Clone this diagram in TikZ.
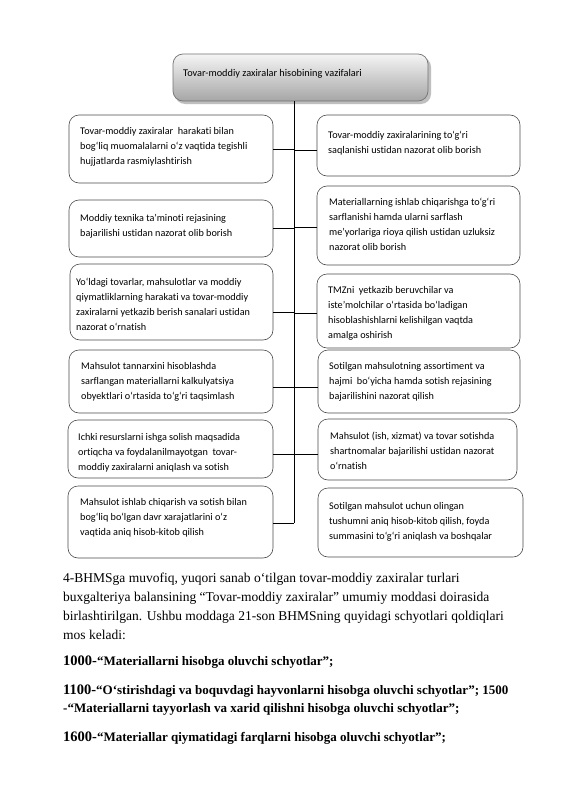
\documentclass[tikz,border=0pt]{standalone}
\usepackage{fontspec}
\setmainfont{Liberation Serif}
\newfontfamily\boxfont[Ligatures=NoCommon]{Carlito}
\usetikzlibrary{shadows}
\begin{document}
\begin{tikzpicture}[x=1pt,y=-1pt,
  taskbox/.style={draw=black!70, line width=0.6pt, rounded corners=10pt, fill=white},
  boxtext/.style={anchor=base west, inner sep=0pt, font=\boxfont\fontsize{10.2}{15}\selectfont, align=left},
  conn/.style={draw=black, line width=0.7pt},
  bodytext/.style={anchor=base west, inner sep=0pt, font=\fontsize{13.5}{19}\selectfont},
  boldtext/.style={anchor=base west, inner sep=0pt, font=\bfseries\fontsize{13}{19}\selectfont},
  bignum/.style={font=\bfseries\fontsize{14.5}{19}\selectfont}]
\useasboundingbox (0,0) rectangle (565,800);
\fill[white] (0,0) rectangle (565,800);

% title box
\fill[black!25, rounded corners=10pt] (175,57) rectangle (431,104);
\shade[top color=black!4, bottom color=black!35, draw=black!55, line width=0.7pt, rounded corners=10pt] (173,54) rectangle (428,101);
\node[boxtext, font=\boxfont\fontsize{10.3}{12}\selectfont] (title) at (183,77) {Tovar-moddiy zaxiralar hisobining vazifalari};
\coordinate (top) at (294,101);
\coordinate (bot) at (294,523);

% boxes
\draw[taskbox] (69,115) rectangle (273,183);
\draw[taskbox] (317,115) rectangle (520,176);
\draw[taskbox] (69,200) rectangle (273,257);
\draw[taskbox] (317,186) rectangle (520,265);
\draw[taskbox] (70,264) rectangle (273,340);
\draw[taskbox] (317,274) rectangle (520,348);
\draw[taskbox] (69,350) rectangle (273,413);
\draw[taskbox] (318,350) rectangle (520,413);
\draw[taskbox] (68,420) rectangle (273,478);
\draw[taskbox] (318,419) rectangle (517,480);
\draw[taskbox] (68,486) rectangle (273,558);
\draw[taskbox] (318,488) rectangle (523,557);

\coordinate (l1) at (273,149); \coordinate (r1) at (317,150);
\coordinate (l2) at (273,228); \coordinate (r2) at (317,227);
\coordinate (l3) at (273,312); \coordinate (r3) at (317,313);
\coordinate (l4) at (273,387); \coordinate (r4) at (318,387);
\coordinate (l5) at (273,454); \coordinate (r5) at (318,454);
\coordinate (l6) at (273,523);

\draw[conn] (top) -- (bot);
\foreach \c in {l1,r1,l2,r2,l3,r3,l4,r4,l5,r5,l6}{
  \draw[conn] (\c) -- (294,0 |- \c);
}

\node[boxtext] (t1) at (80,164) {Tovar-moddiy zaxiralar\ \ harakati bilan\\bog‘liq muomalalarni o‘z vaqtida tegishli\\hujjatlarda rasmiylashtirish};
\node[boxtext] (t2) at (328,153) {Tovar-moddiy zaxiralarining to‘g‘ri\\saqlanishi ustidan nazorat olib borish};
\node[boxtext] (t3) at (80,236) {Moddiy texnika ta’minoti rejasining\\bajarilishi ustidan nazorat olib borish};
\node[boxtext] (t4) at (329,250) {Materiallarning ishlab chiqarishga to‘g‘ri\\sarflanishi hamda ularni sarflash\\me’yorlariga rioya qilish ustidan uzluksiz\\nazorat olib borish};
\node[boxtext] (t5) at (76,330) {Yo‘ldagi tovarlar, mahsulotlar va moddiy\\qiymatliklarning harakati va tovar-moddiy\\zaxiralarni yetkazib berish sanalari ustidan\\nazorat o‘rnatish};
\node[boxtext] (t6) at (328,338) {TMZni\ \ yetkazib beruvchilar va\\iste’molchilar o‘rtasida bo‘ladigan\\hisoblashishlarni kelishilgan vaqtda\\amalga oshirish};
\node[boxtext] (t7) at (81,399) {Mahsulot tannarxini hisoblashda\\sarflangan materiallarni kalkulyatsiya\\obyektlari o‘rtasida to‘g‘ri taqsimlash};
\node[boxtext] (t8) at (329,399) {Sotilgan mahsulotning assortiment va\\hajmi\ \ bo‘yicha hamda sotish rejasining\\bajarilishini nazorat qilish};
\node[boxtext] (t9) at (78,470) {Ichki resurslarni ishga solish maqsadida\\ortiqcha va foydalanilmayotgan\ \ tovar-\\moddiy zaxiralarni aniqlash va sotish};
\node[boxtext] (t10) at (330,469) {Mahsulot (ish, xizmat) va tovar sotishda\\shartnomalar bajarilishi ustidan nazorat\\o‘rnatish};
\node[boxtext] (t11) at (80,535) {Mahsulot ishlab chiqarish va sotish bilan\\bog‘liq bo‘lgan davr xarajatlarini o‘z\\vaqtida aniq hisob-kitob qilish};
\node[boxtext] (t12) at (329,539) {Sotilgan mahsulot uchun olingan\\tushumni aniq hisob-kitob qilish, foyda\\summasini to‘g‘ri aniqlash va boshqalar};

% body text
\node[bodytext] (p1) at (63,582) {4-BHMSga muvofiq, yuqori sanab o‘tilgan tovar-moddiy zaxiralar turlari};
\node[bodytext] (p2) at (63,601) {buxgalteriya balansining “Tovar-moddiy zaxiralar” umumiy moddasi doirasida};
\node[bodytext] (p3) at (63,620) {birlashtirilgan. Ushbu moddaga 21-son BHMSning quyidagi schyotlari qoldiqlari};
\node[bodytext] (p4) at (63,639) {mos keladi:};
\node[boldtext] (b1) at (63,665) {{\bfseries\fontsize{14.5}{19}\selectfont 1000-}“Materiallarni hisobga oluvchi schyotlar”;};
\node[boldtext] (b2) at (63,694) {{\bfseries\fontsize{14.5}{19}\selectfont 1100-}“O‘stirishdagi va boquvdagi hayvonlarni hisobga oluvchi schyotlar”; 1500};
\node[boldtext] (b3) at (63,712) {-“Materiallarni tayyorlash va xarid qilishni hisobga oluvchi schyotlar”;};
\node[boldtext] (b4) at (63,741) {{\bfseries\fontsize{14.5}{19}\selectfont 1600-}“Materiallar qiymatidagi farqlarni hisobga oluvchi schyotlar”;};
\end{tikzpicture}
\end{document}
